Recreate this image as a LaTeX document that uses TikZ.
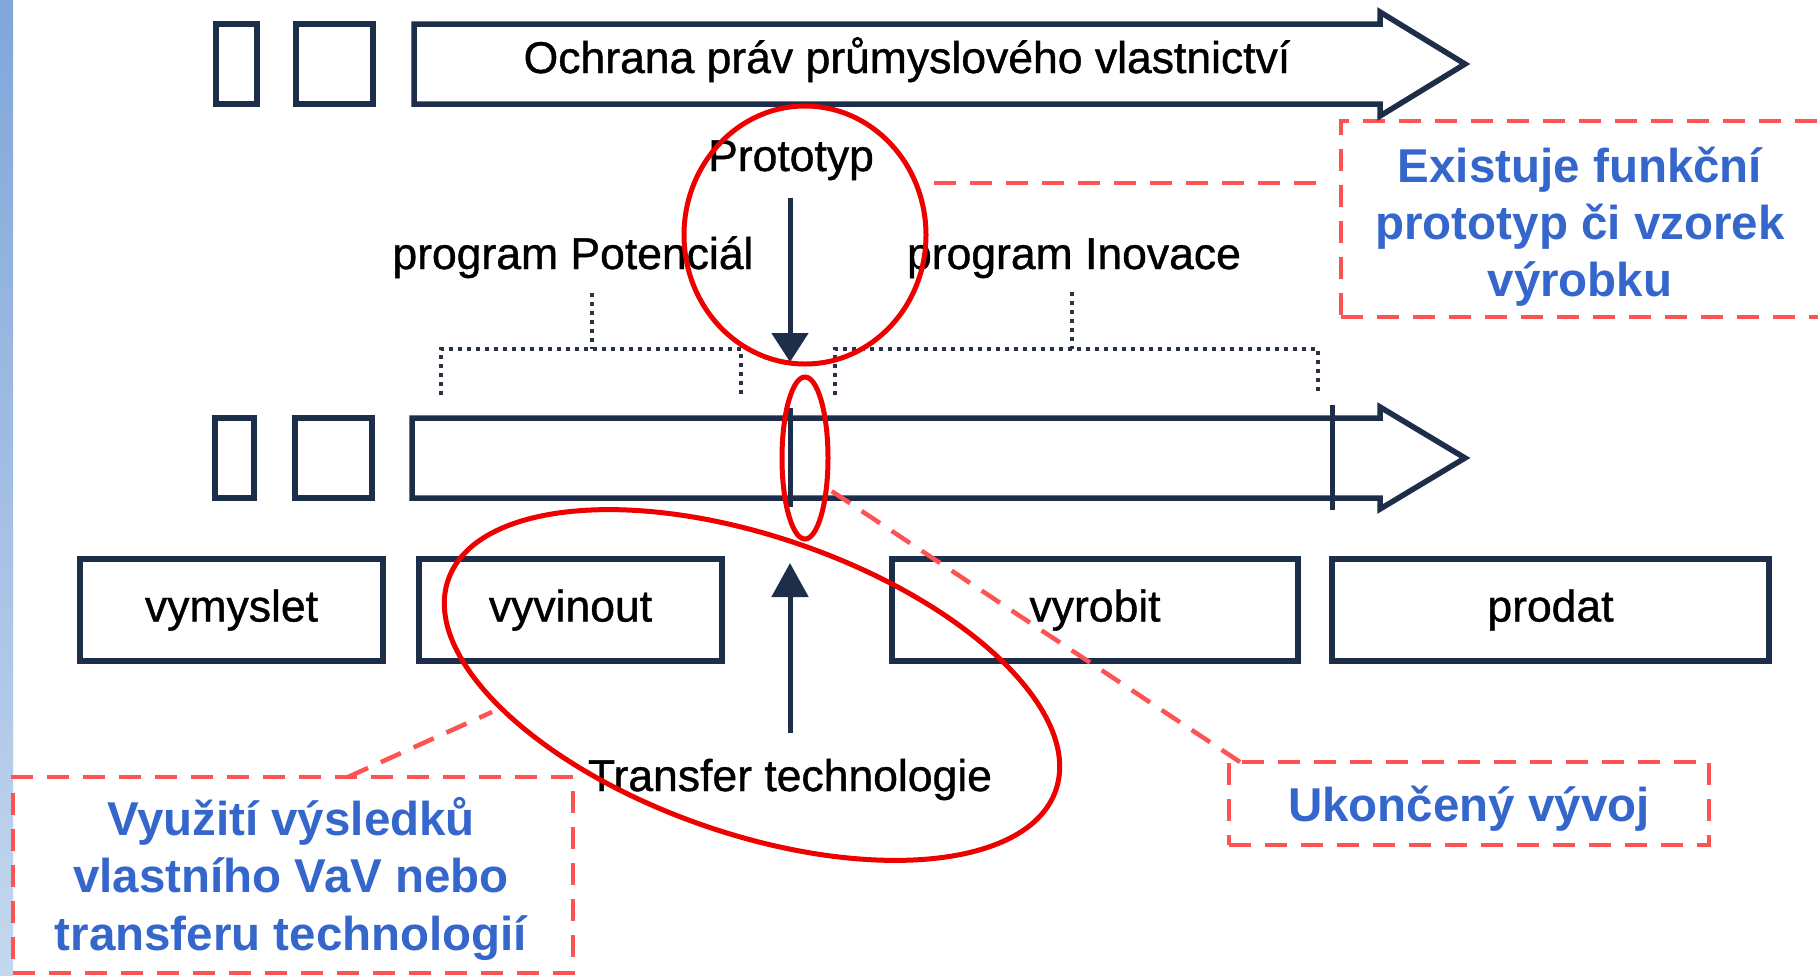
\documentclass[tikz,border=0pt]{standalone}
\usepackage{fontspec}
\setmainfont{Liberation Sans}
\newfontfamily\lblfont[FakeBold=0.9]{Liberation Sans}
\usetikzlibrary{shapes.geometric,arrows.meta}
\definecolor{navy}{RGB}{28,46,74}
\definecolor{dashred}{RGB}{255,82,82}
\definecolor{ellred}{RGB}{238,0,0}
\definecolor{txtblue}{RGB}{52,102,204}
\definecolor{dotgray}{RGB}{40,52,70}
\definecolor{stripTop}{RGB}{128,166,218}
\definecolor{stripBot}{RGB}{196,215,238}
\begin{document}
\begin{tikzpicture}[x=1pt,y=-1pt,
  frame/.style={draw=navy, line width=5.5pt, inner sep=0pt, outer sep=0pt, fill=white},
  smallbox/.style={frame, anchor=north west},
  stagebox/.style={frame, minimum height=102pt, text height=33pt, text depth=10pt, font=\fontsize{44.5}{53}\lblfont},
  lbl/.style={font=\fontsize{44.5}{53}\lblfont, anchor=base, inner sep=0pt},
  bluetxt/.style={font=\fontsize{47.5}{57}\selectfont\bfseries, text=txtblue, anchor=base, inner sep=0pt},
  dashbox/.style={draw=dashred, line width=4.5pt, dash pattern=on 22pt off 14pt, anchor=north west, inner sep=0pt, outer sep=0pt},
  callout/.style={draw=dashred, line width=4.5pt, dash pattern=on 22pt off 14pt},
  redell/.style={ellipse, draw=ellred, line width=5pt, inner sep=0pt, outer sep=0pt},
  dotline/.style={draw=dotgray, line width=4pt, dash pattern=on 4pt off 5pt},
  navyline/.style={draw=navy, line width=5pt},
  bigarrow/.style={draw=navy, line width=5.5pt, line join=miter, fill=white}
]
\useasboundingbox (0,0) rectangle (1818,975);
\fill[white] (0,0) rectangle (1818,975);
\shade[top color=stripTop, bottom color=stripBot] (0,0) rectangle (13,975);

% dashed callout boxes
\node[dashbox, minimum width=500pt, minimum height=196pt] (bt) at (1341,121) {};
\node[dashbox, minimum width=480pt, minimum height=83pt] (bu) at (1229,762) {};
\node[dashbox, minimum width=560pt, minimum height=196pt] (bl) at (13,777) {};

% top row
\node[smallbox, minimum width=41pt, minimum height=80pt] (ts1) at (216,24) {};
\node[smallbox, minimum width=77pt, minimum height=80pt] (ts2) at (296,24) {};
\draw[bigarrow] (414,24) -- (1380,24) -- (1380,12) -- (1465,64) -- (1380,116) -- (1380,104) -- (414,104) -- cycle;
\node[lbl] (och) at (907,73) {Ochrana práv průmyslového vlastnictví};

% middle row
\node[smallbox, minimum width=39pt, minimum height=80pt] (ms1) at (215,418) {};
\node[smallbox, minimum width=77pt, minimum height=80pt] (ms2) at (295,418) {};
\draw[bigarrow] (412,418) -- (1380,418) -- (1380,407) -- (1465,458) -- (1380,509) -- (1380,498) -- (412,498) -- cycle;
\coordinate (v1a) at (790,408); \coordinate (v1b) at (790,507);
\coordinate (v2a) at (1332,405); \coordinate (v2b) at (1332,510);
\draw[navyline] (v1a) -- (v1b);
\draw[navyline] (v2a) -- (v2b);

% labels
\node[lbl] (proto) at (791,171) {Prototyp};
\node[lbl] (pot) at (573,269) {program Potenciál};
\node[lbl] (inov) at (1074,269) {program Inovace};
\node[lbl] (transfer) at (790,791) {Transfer technologie};

% brackets
\draw[dotline] (441,395) -- (441,349) -- (741,349) -- (741,395);
\draw[dotline] (592,293) -- (592,349);
\draw[dotline] (835,395) -- (835,349) -- (1318,349) -- (1318,395);
\draw[dotline] (1072,292) -- (1072,349);

% stage boxes
\node[stagebox, minimum width=303pt] (s1) at (231.5,610) {vymyslet};
\node[stagebox, minimum width=303pt] (s2) at (570.5,610) {vyvinout};
\node[stagebox, minimum width=406pt] (s3) at (1095,610) {vyrobit};
\node[stagebox, minimum width=437pt] (s4) at (1550.5,610) {prodat};

% navy arrows
\coordinate (pa1) at (790,198); \coordinate (pa2) at (790,362);
\draw[navyline, -{Triangle[width=36pt,length=29pt]}] (pa1) -- (pa2);
\coordinate (ta1) at (790,733); \coordinate (ta2) at (790,563);
\draw[navyline, -{Triangle[width=36pt,length=34pt]}] (ta1) -- (ta2);

% blue texts
\node[bluetxt] (e1) at (1580,182) {Existuje funkční};
\node[bluetxt] (e2) at (1580,239) {prototyp či vzorek};
\node[bluetxt] (e3) at (1580,296) {výrobku};
\node[bluetxt] (u1) at (1469,821) {Ukončený vývoj};
\node[bluetxt] (l1) at (291,835) {Využití výsledků};
\node[bluetxt] (l2) at (291,892) {vlastního VaV nebo};
\node[bluetxt] (l3) at (291,950) {transferu technologií};

% red ellipses
\node[redell, minimum width=242pt, minimum height=258pt] (pe) at (805,235) {};
\node[redell, minimum width=46pt, minimum height=162pt] (se) at (805,458) {};
\node[redell, minimum width=643pt, minimum height=297pt, rotate=-19.1] (te) at (752,685) {};

% callout connectors
\coordinate (c1a) at (1316,183); \coordinate (c1b) at (924,183);
\draw[callout] (c1a) -- (c1b);
\coordinate (c2a) at (1240,762); \coordinate (c2b) at (830,490);
\draw[callout] (c2a) -- (c2b);
\coordinate (c3a) at (348,777); \coordinate (c3b) at (492,712);
\draw[callout] (c3a) -- (c3b);
\end{tikzpicture}
\end{document}
